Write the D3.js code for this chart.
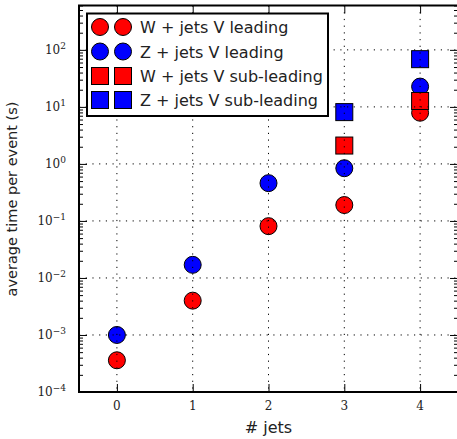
<!DOCTYPE html>
<html>
<head>
<meta charset="utf-8">
<script src="https://cdn.jsdelivr.net/npm/d3@7/dist/d3.min.js"></script>
<style>
  html, body { margin: 0; padding: 0; background: #fff; }
  svg { display: block; }
</style>
</head>
<body>
<svg id="chart" width="457" height="439"></svg>
<script>
// Average processing time per event vs. number of jets
const jets = [0, 1, 2, 3, 4];
const wLeading = [3.6e-4, 4.0e-3, 0.081, 0.19, 7.9];
const zLeading = [1.0e-3, 0.017, 0.46, 0.84, 22.7];
const subJets = [3, 4];
const wSubLeading = [2.1, 12.7];
const zSubLeading = [8.1, 68.7];
const yTickValues = [1e-4, 1e-3, 1e-2, 1e-1, 1e0, 1e1, 1e2];
const yTickExponents = ["−4", "−3", "−2", "−1", "0", "1", "2"];

const seriesList = [
  { name: "W + jets V leading", x: jets, y: wLeading, color: "#ff0000", shape: "circle" },
  { name: "Z + jets V leading", x: jets, y: zLeading, color: "#0000ff", shape: "circle" },
  { name: "W + jets V sub-leading", x: subJets, y: wSubLeading, color: "#ff0000", shape: "square" },
  { name: "Z + jets V sub-leading", x: subJets, y: zSubLeading, color: "#0000ff", shape: "square" }
];

const svg = d3.select("#chart");
const plot = { left: 79, right: 458, top: 5.5, bottom: 392 };

const x = d3.scaleLinear().domain([-0.5, 4.5]).range([plot.left, plot.right]);
const y = d3.scaleLog().domain([1e-4, 600]).range([plot.bottom, plot.top]);

const serif = "'DejaVu Serif', serif";
const sans = "'DejaVu Sans', sans-serif";

// markers
const R = 8.5, S = 17;
const marks = svg.append("g");
seriesList.forEach(s => {
  s.x.forEach((xv, i) => {
    if (s.shape === "circle") {
      marks.append("circle")
        .attr("cx", x(xv)).attr("cy", y(s.y[i])).attr("r", R)
        .attr("fill", s.color).attr("stroke", "#000").attr("stroke-width", 1);
    } else {
      marks.append("rect")
        .attr("x", x(xv) - S / 2).attr("y", y(s.y[i]) - S / 2)
        .attr("width", S).attr("height", S)
        .attr("fill", s.color).attr("stroke", "#000").attr("stroke-width", 1);
    }
  });
});

// dotted grid drawn over the markers
const grid = svg.append("g").attr("stroke", "#000").attr("stroke-width", 1)
  .attr("stroke-dasharray", "1.2,5.5");
jets.forEach(v => {
  grid.append("line").attr("x1", x(v)).attr("x2", x(v))
    .attr("y1", plot.top).attr("y2", plot.bottom);
});
yTickValues.forEach(v => {
  grid.append("line").attr("x1", plot.left).attr("x2", plot.right)
    .attr("y1", y(v)).attr("y2", y(v));
});

// axes with inward ticks
const minorTicks = [];
for (let e = -4; e <= 2; e++) {
  for (let m = 2; m <= 9; m++) {
    const v = m * Math.pow(10, e);
    if (v <= 600) minorTicks.push(v);
  }
}

const leftAxis = d3.axisLeft(y).tickValues(yTickValues).tickSize(-8).tickFormat("");
const leftMinor = d3.axisLeft(y).tickValues(minorTicks).tickSize(-4).tickFormat("");
const rightAxis = d3.axisRight(y).tickValues(yTickValues).tickSize(-8).tickFormat("");
const rightMinor = d3.axisRight(y).tickValues(minorTicks).tickSize(-4).tickFormat("");
const bottomAxis = d3.axisBottom(x).tickValues(jets).tickSize(-8).tickFormat("");
const topAxis = d3.axisTop(x).tickValues(jets).tickSize(-8).tickFormat("");

function styleAxis(g) {
  g.select(".domain").remove();
  g.selectAll(".tick line").attr("stroke", "#000").attr("stroke-width", 1);
}
svg.append("g").attr("transform", `translate(${plot.left},0)`).call(leftAxis).call(styleAxis);
svg.append("g").attr("transform", `translate(${plot.left},0)`).call(leftMinor).call(styleAxis);
svg.append("g").attr("transform", `translate(${plot.right},0)`).call(rightAxis).call(styleAxis);
svg.append("g").attr("transform", `translate(${plot.right},0)`).call(rightMinor).call(styleAxis);
svg.append("g").attr("transform", `translate(0,${plot.bottom})`).call(bottomAxis).call(styleAxis);
svg.append("g").attr("transform", `translate(0,${plot.top})`).call(topAxis).call(styleAxis);

// frame
svg.append("rect")
  .attr("x", plot.left).attr("y", plot.top)
  .attr("width", plot.right - plot.left).attr("height", plot.bottom - plot.top)
  .attr("fill", "none").attr("stroke", "#000").attr("stroke-width", 2);

// y tick labels: 10 with superscript exponent
yTickValues.forEach((v, i) => {
  const t = svg.append("text")
    .attr("x", 66).attr("y", y(v) + 4)
    .attr("text-anchor", "end")
    .attr("font-family", serif).attr("font-size", 12).attr("fill", "#222");
  t.append("tspan").text("10");
  t.append("tspan").attr("dy", -5).attr("font-size", 9).text(yTickExponents[i]);
});

// x tick labels
jets.forEach(v => {
  svg.append("text")
    .attr("x", x(v)).attr("y", 410)
    .attr("text-anchor", "middle")
    .attr("font-family", serif).attr("font-size", 12).attr("fill", "#222")
    .text(v);
});

// axis titles
svg.append("text")
  .attr("x", (plot.left + plot.right) / 2).attr("y", 433)
  .attr("text-anchor", "middle")
  .attr("font-family", sans).attr("font-size", 16).attr("fill", "#222")
  .text("# jets");

svg.append("text")
  .attr("transform", `translate(17,199) rotate(-90)`)
  .attr("text-anchor", "middle")
  .attr("font-family", sans).attr("font-size", 14.5).attr("fill", "#222")
  .text("average time per event (s)");

// legend
const legend = svg.append("g");
legend.append("rect")
  .attr("x", 87).attr("y", 13.5).attr("width", 241).attr("height", 102.5)
  .attr("fill", "#fff").attr("stroke", "#000").attr("stroke-width", 2);
const rowY = [27, 51.5, 76, 100];
seriesList.forEach((s, i) => {
  [100, 123].forEach(cx => {
    if (s.shape === "circle") {
      legend.append("circle").attr("cx", cx).attr("cy", rowY[i]).attr("r", R)
        .attr("fill", s.color).attr("stroke", "#000").attr("stroke-width", 1);
    } else {
      legend.append("rect").attr("x", cx - S / 2).attr("y", rowY[i] - S / 2)
        .attr("width", S).attr("height", S)
        .attr("fill", s.color).attr("stroke", "#000").attr("stroke-width", 1);
    }
  });
  legend.append("text")
    .attr("x", 140).attr("y", rowY[i] + 6)
    .attr("font-family", sans).attr("font-size", 16).attr("fill", "#222")
    .text(s.name);
});
</script>
</body>
</html>
